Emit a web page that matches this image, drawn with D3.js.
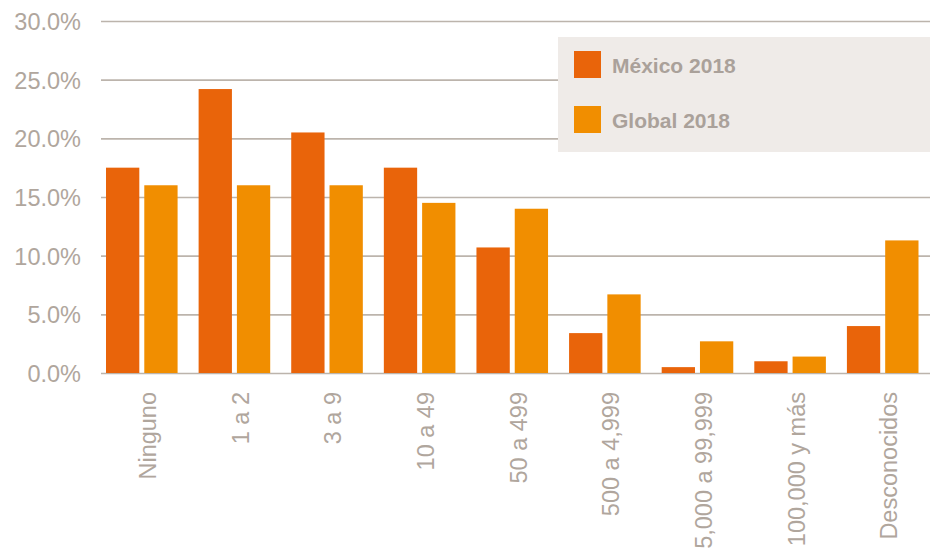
<!DOCTYPE html>
<html>
<head>
<meta charset="utf-8">
<script src="https://cdn.jsdelivr.net/npm/d3@7"></script>
<style>
  html, body { margin: 0; padding: 0; background: #fff; }
  svg { display: block; }
  text { font-family: "Liberation Sans", Arial, Helvetica, sans-serif; }
</style>
</head>
<body>
<svg id="chart" width="934" height="550"></svg>
<script>
const categories = ["Ninguno", "1 a 2", "3 a 9", "10 a 49", "50 a 499", "500 a 4,999", "5,000 a 99,999", "100,000 y más", "Desconocidos"];
const seriesNames = ["México 2018", "Global 2018"];
const mexico = [17.5, 24.2, 20.5, 17.5, 10.7, 3.4, 0.5, 1.0, 4.0];
const global = [16.0, 16.0, 16.0, 14.5, 14.0, 6.7, 2.7, 1.4, 11.3];
const yTicks = [0, 5, 10, 15, 20, 25, 30];
const colors = ["#e9640a", "#f18e00"];

const svg = d3.select("#chart");
const plotLeft = 101, plotRight = 930, yTop = 21, yBottom = 373;

const y = d3.scaleLinear().domain([0, 30]).range([yBottom, yTop]);
const x0 = d3.scaleBand().domain(categories).range([106, 918.5]).paddingInner(0.227).paddingOuter(0);
const x1 = d3.scaleBand().domain(seriesNames).range([0, x0.bandwidth()]).paddingInner(0.13);

// gridlines
const yAxis = d3.axisLeft(y).tickValues(yTicks).tickFormat(d => d.toFixed(1) + "%").tickSize(-(plotRight - plotLeft)).tickPadding(20);
const gy = svg.append("g").attr("transform", `translate(${plotLeft},0)`).call(yAxis);
gy.select(".domain").remove();
gy.selectAll(".tick line").attr("stroke", "#bcb4ac").attr("stroke-width", 1.6);
gy.selectAll(".tick text").attr("fill", "#b0a69d").attr("font-size", 23.5).attr("dy", "0.36em");

// bars
const data = categories.map((c, i) => ({ cat: c, vals: [mexico[i], global[i]] }));
const groups = svg.append("g").selectAll("g").data(data).join("g")
  .attr("transform", d => `translate(${x0(d.cat)},0)`);
groups.selectAll("rect").data(d => d.vals.map((v, j) => ({ name: seriesNames[j], v, j })))
  .join("rect")
  .attr("x", d => x1(d.name))
  .attr("width", x1.bandwidth())
  .attr("y", d => y(d.v))
  .attr("height", d => y(0) - y(d.v))
  .attr("fill", d => colors[d.j]);

// x labels
svg.append("g").selectAll("text").data(categories).join("text")
  .attr("transform", d => `translate(${x0(d) + x0.bandwidth() / 2 + 6},392) rotate(-90)`)
  .attr("text-anchor", "end")
  .attr("dy", "0.36em")
  .attr("font-size", 23.5)
  .attr("fill", "#b0a69d")
  .text(d => d);

// legend
const lg = svg.append("g");
lg.append("rect").attr("x", 558).attr("y", 37).attr("width", 372).attr("height", 115).attr("fill", "#efebe8");
seriesNames.forEach((s, i) => {
  const yy = 51 + i * 55;
  lg.append("rect").attr("x", 574).attr("y", yy).attr("width", 27).attr("height", 27).attr("fill", colors[i]);
  lg.append("text").attr("x", 612).attr("y", yy + 14).attr("dy", "0.36em")
    .attr("font-size", 21).attr("font-weight", "bold").attr("fill", "#aaa19a").text(s);
});
</script>
</body>
</html>
